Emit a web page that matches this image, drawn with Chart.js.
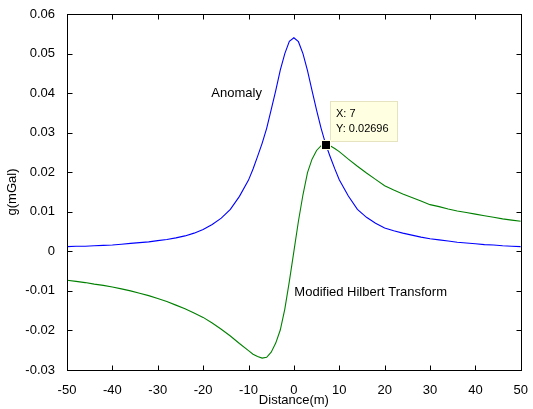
<!DOCTYPE html>
<html>
<head>
<meta charset="utf-8">
<script src="https://cdn.jsdelivr.net/npm/chart.js@4/dist/chart.umd.min.js"></script>
<style>
  html, body { margin: 0; padding: 0; background: #fff; }
  #wrap { width: 533px; height: 409px; }
</style>
</head>
<body>
<div id="wrap"><canvas id="chart" width="533" height="409"></canvas></div>
<script>
// values
const distance = [-50, -48, -46, -44, -42, -40, -38, -36, -34, -32, -30, -28, -26, -24, -22, -20, -18, -16, -14,
  -12, -10, -9, -8, -7, -6, -5, -4, -3, -2, -1, 0, 1, 2, 3, 4, 5, 6, 7, 8, 9, 10, 12, 14, 16, 18, 20, 22, 24,
  26, 28, 30, 32, 34, 36, 38, 40, 42, 44, 46, 48, 50];

const anomaly = [0.0012, 0.0013, 0.0013, 0.0014, 0.0015, 0.0016, 0.0018, 0.0020, 0.0022, 0.0024, 0.0027,
  0.0030, 0.0034, 0.0039, 0.0046, 0.0055, 0.0068, 0.0084, 0.0106, 0.0139, 0.0180, 0.0208, 0.0240, 0.0273,
  0.0311, 0.0358, 0.0406, 0.0458, 0.0500, 0.0531, 0.0540, 0.0530, 0.0500, 0.0457, 0.0406, 0.0357, 0.0311,
  0.0271, 0.0239, 0.0209, 0.0181, 0.0140, 0.0106, 0.0086, 0.0071, 0.0059, 0.0052, 0.0046, 0.0041, 0.0036,
  0.0032, 0.0029, 0.0026, 0.0023, 0.0021, 0.0019, 0.0017, 0.0016, 0.0014, 0.0013, 0.0012];

const hilbert = [-0.0073, -0.0076, -0.0079, -0.0083, -0.0086, -0.0090, -0.0095, -0.0100, -0.0106, -0.0112,
  -0.0119, -0.0127, -0.0136, -0.0145, -0.0156, -0.0167, -0.0181, -0.0197, -0.0214, -0.0233, -0.0251, -0.0260,
  -0.0266, -0.0270, -0.0268, -0.0255, -0.0232, -0.0199, -0.0146, -0.0076, 0.0000, 0.0076, 0.0143, 0.0199,
  0.0233, 0.0255, 0.0267, 0.0270, 0.0267, 0.0260, 0.0252, 0.0233, 0.0215, 0.0198, 0.0182, 0.0166, 0.0155,
  0.0145, 0.0136, 0.0127, 0.0118, 0.0113, 0.0107, 0.0102, 0.0098, 0.0094, 0.0090, 0.0086, 0.0082, 0.0079,
  0.0076];

const xTicks = [-50, -40, -30, -20, -10, 0, 10, 20, 30, 40, 50];
const yTicks = [-0.03, -0.02, -0.01, 0, 0.01, 0.02, 0.03, 0.04, 0.05, 0.06];

const tipX = 7;
const tipY = 0.02696;

const FONT = "Liberation Sans, Arial, Helvetica, sans-serif";

function toPoints(xs, ys) {
  return xs.map((x, i) => ({ x, y: ys[i] }));
}

function fmtY(v) {
  if (Math.abs(v) < 1e-9) return "0";
  return v.toFixed(2);
}

const matlabAxes = {
  id: "matlab-axes",
  afterDatasetsDraw(chart) {
    const { ctx, chartArea: a, scales } = chart;
    const x = scales.x, y = scales.y;
    ctx.save();

    // labels on the curves
    ctx.fillStyle = "#000";
    ctx.font = "13px " + FONT;
    ctx.textAlign = "left";
    ctx.textBaseline = "alphabetic";
    ctx.fillText("Anomaly", x.getPixelForValue(-18.2), y.getPixelForValue(0.0389));
    ctx.fillText("Modified Hilbert Transform", x.getPixelForValue(0.1), y.getPixelForValue(-0.0113));

    // box and inward ticks
    ctx.strokeStyle = "#000";
    ctx.lineWidth = 1;
    const L = Math.round(a.left) + 0.5, R = Math.round(a.right) + 0.5;
    const T = Math.round(a.top) + 0.5, B = Math.round(a.bottom) + 0.5;
    ctx.strokeRect(L, T, R - L, B - T);
    ctx.beginPath();
    xTicks.forEach((v) => {
      const px = Math.round(x.getPixelForValue(v)) + 0.5;
      ctx.moveTo(px, B); ctx.lineTo(px, B - 5);
      ctx.moveTo(px, T); ctx.lineTo(px, T + 5);
    });
    yTicks.forEach((v) => {
      const py = Math.round(y.getPixelForValue(v)) + 0.5;
      ctx.moveTo(L, py); ctx.lineTo(L + 5, py);
      ctx.moveTo(R, py); ctx.lineTo(R - 5, py);
    });
    ctx.stroke();

    // data tip
    const px = x.getPixelForValue(tipX), py = y.getPixelForValue(tipY);
    const bx = Math.round(px + 4) + 0.5, by = Math.round(py - 44) + 0.5;
    ctx.fillStyle = "#ffffe1";
    ctx.strokeStyle = "#e6e4c0";
    ctx.fillRect(bx, by, 67, 40);
    ctx.strokeRect(bx, by, 67, 40);
    ctx.fillStyle = "#000";
    ctx.font = "11px " + FONT;
    ctx.fillText("X: " + tipX, bx + 5.5, by + 15.5);
    ctx.fillText("Y: " + tipY, bx + 5.5, by + 30.5);

    ctx.fillStyle = "#ffffe1";
    ctx.fillRect(Math.round(px) - 5, Math.round(py) - 5, 10, 10);
    ctx.fillStyle = "#000";
    ctx.fillRect(Math.round(px) - 4, Math.round(py) - 4, 8, 8);
    ctx.restore();
  },
};

new Chart(document.getElementById("chart"), {
  type: "line",
  data: {
    datasets: [
      {
        label: "Anomaly",
        data: toPoints(distance, anomaly),
        borderColor: "#0000ff",
        borderWidth: 1.1,
        pointRadius: 0,
        tension: 0,
      },
      {
        label: "Modified Hilbert Transform",
        data: toPoints(distance, hilbert),
        borderColor: "#008000",
        borderWidth: 1.1,
        pointRadius: 0,
        tension: 0,
      },
    ],
  },
  options: {
    responsive: false,
    animation: false,
    events: [],
    layout: { padding: { left: 0, top: 14, right: 12, bottom: 0 } },
    plugins: {
      legend: { display: false },
      tooltip: { enabled: false },
    },
    scales: {
      x: {
        type: "linear",
        min: -50,
        max: 50,
        grid: { display: false },
        border: { display: false },
        afterBuildTicks: (s) => { s.ticks = xTicks.map((v) => ({ value: v })); },
        afterFit: (s) => { s.height = 39; },
        ticks: {
          color: "#000",
          padding: 5,
          maxRotation: 0,
          font: { family: FONT, size: 13 },
          callback: (v) => String(v),
        },
        title: {
          display: true,
          text: "Distance(m)",
          color: "#000",
          padding: { top: 0, bottom: 1 },
          font: { family: FONT, size: 13 },
        },
      },
      y: {
        type: "linear",
        min: -0.03,
        max: 0.06,
        grid: { display: false },
        border: { display: false },
        afterBuildTicks: (s) => { s.ticks = yTicks.map((v) => ({ value: v })); },
        afterFit: (s) => { s.width = 67; },
        ticks: {
          color: "#000",
          padding: 4,
          font: { family: FONT, size: 13 },
          callback: (v) => fmtY(v),
        },
        title: {
          display: true,
          text: "g(mGal)",
          color: "#000",
          padding: { top: 5, bottom: 0 },
          font: { family: FONT, size: 13 },
        },
      },
    },
  },
  plugins: [matlabAxes],
});
</script>
</body>
</html>
